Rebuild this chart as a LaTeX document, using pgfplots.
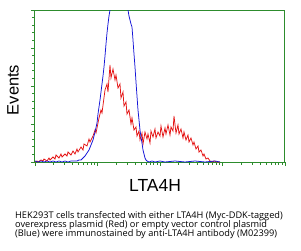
\documentclass[border=0pt]{standalone}
\usepackage{fontspec}
\setmainfont{Liberation Sans}
\newfontfamily\capfont{Open Sans}
\usepackage{pgfplots}
\pgfplotsset{compat=1.18}
\definecolor{axgreen}{RGB}{45,140,45}
\definecolor{myred}{RGB}{228,20,20}
\definecolor{myblue}{RGB}{20,20,215}
\begin{document}
\begin{tikzpicture}[x=1pt,y=1pt]
\path[use as bounding box] (0,0) rectangle (301,250);
\begin{axis}[at={(35,88)}, anchor=south west,
  width=250pt, height=152pt, scale only axis,
  xmin=0, xmax=250, ymin=0, ymax=152,
  axis line style={axgreen, line width=1pt},
  xtick={0,62.5,125,187.5,250},
  minor xtick={18.8,29.8,37.6,43.7,48.6,52.8,56.4,59.6,
    81.3,92.3,100.1,106.2,111.1,115.3,118.9,122.1,
    143.8,154.8,162.6,168.7,173.6,177.8,181.4,184.6,
    206.3,217.3,225.1,231.2,236.1,240.3,243.9,247.1},
  ytick={0,38,76,114,152},
  minor ytick={7.6,15.2,22.8,30.4,45.6,53.2,60.8,68.4,83.6,91.2,98.8,106.4,121.6,129.2,136.8,144.4},
  xticklabels={}, yticklabels={},
  tick style={axgreen, line width=0.8pt},
  major tick length=4pt, minor tick length=2.5pt,
  tick align=outside, xtick pos=bottom, ytick pos=left,
  clip=true]
\addplot[myred, line width=0.75pt] coordinates {
(0,0)(2,1)(3,0)(6,2)(8,1)(9,3)(12,1)(14,4)(15,2)(18,5)(20,3)(21,7)(24,4)(26,8)(27,5)(30,8)(32,6)(33,10)(36,7)(38,11)
(40,8)(42,13)(43,10)(46,15)(48,12)(49,18)(52,16)(54,23)(55,20)(58,26)(60,32)(61,29)(64,44)(66,52)(67,49)(70,72)(72,78)(73,70)(75,97)(76,84)
(78,93)(80,82)(81,87)(83,74)(85,78)(86,64)(88,70)(89,56)(91,60)(92,48)(94,52)(96,38)(97,44)(99,32)(101,35)(102,26)(104,31)(105,22)(107,29)(108,18)
(110,30)(112,23)(113,28)(115,19)(116,31)(118,25)(120,33)(121,24)(123,30)(125,26)(126,36)(128,25)(130,34)(131,28)(133,37)(135,27)(136,35)(138,31)(139,46)(141,29)
(143,37)(144,28)(146,33)(148,24)(149,30)(151,22)(153,27)(154,20)(156,24)(158,17)(159,20)(161,13)(163,16)(164,10)(166,12)(168,6)(169,8)(171,3)(173,4)(175,1)
(177,0)(179,1)(182,0)(185,0)
};
\addplot[myblue, line width=0.75pt] coordinates {
(0,1)(3,0)(6,1)(9,0)(12,1)(15,0)(18,1)(21,0)(24,1)(27,0)(30,1)(33,0)(36,1)(39,1)(42,1)(44,2)(46,2)(48,4)(50,6)(52,9)
(54,12)(56,17)(58,22)(60,30)(62,39)(63,48)(64,55)(65,62)(66,70)(67,78)(68,86)(69,95)(70,106)(71,118)(72,129)(73,138)(74,146)(75,152)(76,162)(78,175)
(84,190)(90,175)(92,160)(93,152)(94,146)(95,142)(96,138)(97,135)(98,122)(99,108)(100,95)(101,80)(102,66)(103,52)(104,42)(105,32)(106,25)(107,19)(108,12)(109,8)
(110,4)(111,2)(112,1)(114,0)(117,1)(120,0)(125,1)(130,0)(140,1)(150,0)(160,1)(170,0)(180,1)(185,0)
};
\end{axis}
\node[rotate=90, font=\fontsize{16.5}{18}\selectfont] at (13,160) {Events};
\node[font=\fontsize{17.5}{19}\selectfont] at (155,65) {LTA4H};
\node[anchor=base west, font=\capfont\fontsize{9.2}{10}\selectfont, inner sep=0pt] at (15,32) {HEK293T cells transfected with either LTA4H (Myc-DDK-tagged)};
\node[anchor=base west, font=\capfont\fontsize{9.2}{10}\selectfont, inner sep=0pt] at (15,22.5) {overexpress plasmid (Red) or empty vector control plasmid};
\node[anchor=base west, font=\capfont\fontsize{9.2}{10}\selectfont, inner sep=0pt] at (15,13) {(Blue) were immunostained by anti-LTA4H antibody (M02399)};
\end{tikzpicture}
\end{document}
